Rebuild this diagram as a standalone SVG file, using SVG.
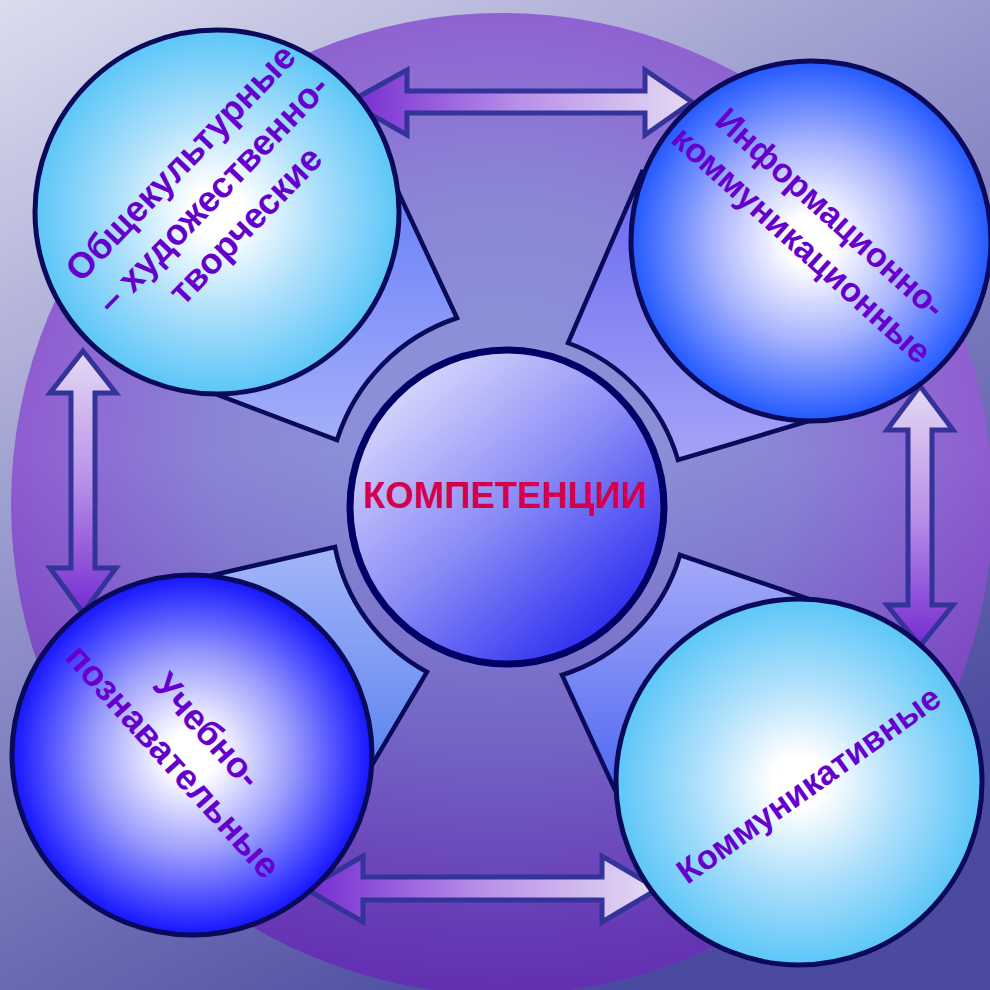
<svg xmlns="http://www.w3.org/2000/svg" width="990" height="990" viewBox="0 0 990 990">
<defs>
<linearGradient id="bg" x1="0" y1="0" x2="0.55" y2="1">
<stop offset="0" stop-color="#dcdcee"/>
<stop offset="0.5" stop-color="#8e8ec8"/>
<stop offset="1" stop-color="#4a4aa0"/>
</linearGradient>
<radialGradient id="big" cx="0.5" cy="0.47" r="0.52">
<stop offset="0" stop-color="#8a9ada"/>
<stop offset="0.55" stop-color="#8a86d6"/>
<stop offset="1" stop-color="#9058d0"/>
</radialGradient>
<linearGradient id="bigShade" x1="0" y1="0" x2="0" y2="1">
<stop offset="0.45" stop-color="#3a1098" stop-opacity="0"/>
<stop offset="1" stop-color="#3a1098" stop-opacity="0.55"/>
</linearGradient>
<radialGradient id="cyan" cx="0.5" cy="0.5" r="0.5">
<stop offset="0" stop-color="#ffffff"/>
<stop offset="0.14" stop-color="#ffffff"/>
<stop offset="0.55" stop-color="#aee0fb"/>
<stop offset="1" stop-color="#5cc6f8"/>
</radialGradient>
<radialGradient id="blue1" cx="0.5" cy="0.5" r="0.5">
<stop offset="0" stop-color="#ffffff"/>
<stop offset="0.14" stop-color="#ffffff"/>
<stop offset="0.55" stop-color="#a8b4fd"/>
<stop offset="1" stop-color="#2258ff"/>
</radialGradient>
<radialGradient id="blue2" cx="0.5" cy="0.5" r="0.5">
<stop offset="0" stop-color="#ffffff"/>
<stop offset="0.14" stop-color="#ffffff"/>
<stop offset="0.55" stop-color="#9a9cfc"/>
<stop offset="1" stop-color="#1414ff"/>
</radialGradient>
<linearGradient id="center" x1="0.15" y1="0.1" x2="0.85" y2="0.9">
<stop offset="0" stop-color="#d8d8fc"/>
<stop offset="0.5" stop-color="#8a8cf6"/>
<stop offset="1" stop-color="#2a2af0"/>
</linearGradient>
<linearGradient id="petalTL" x1="0" y1="0" x2="0" y2="1">
<stop offset="0" stop-color="#6a80f8"/>
<stop offset="1" stop-color="#a4aef8"/>
</linearGradient>
<linearGradient id="petalTR" x1="0" y1="0" x2="0" y2="1">
<stop offset="0" stop-color="#6868f0"/>
<stop offset="1" stop-color="#a4a4f8"/>
</linearGradient>
<linearGradient id="petalBL" x1="0" y1="0" x2="0" y2="1">
<stop offset="0" stop-color="#a4b6f8"/>
<stop offset="1" stop-color="#5c84f0"/>
</linearGradient>
<linearGradient id="petalBR" x1="0" y1="0" x2="0" y2="1">
<stop offset="0" stop-color="#a4aaf8"/>
<stop offset="1" stop-color="#5068f0"/>
</linearGradient>
<linearGradient id="arrH1" gradientUnits="userSpaceOnUse" x1="345" y1="0" x2="695" y2="0">
<stop offset="0" stop-color="#7428d0"/>
<stop offset="0.5" stop-color="#b890e8"/>
<stop offset="1" stop-color="#e6dcf4"/>
</linearGradient>
<linearGradient id="arrH2" gradientUnits="userSpaceOnUse" x1="302" y1="0" x2="662" y2="0">
<stop offset="0" stop-color="#7428d0"/>
<stop offset="0.5" stop-color="#b890e8"/>
<stop offset="1" stop-color="#e6dcf4"/>
</linearGradient>
<linearGradient id="arrV1" gradientUnits="userSpaceOnUse" x1="0" y1="347" x2="0" y2="617">
<stop offset="0" stop-color="#e6dcf4"/>
<stop offset="0.5" stop-color="#b890e8"/>
<stop offset="1" stop-color="#7428d0"/>
</linearGradient>
<linearGradient id="arrV2" gradientUnits="userSpaceOnUse" x1="0" y1="382" x2="0" y2="650">
<stop offset="0" stop-color="#e6dcf4"/>
<stop offset="0.5" stop-color="#b890e8"/>
<stop offset="1" stop-color="#7428d0"/>
</linearGradient>
</defs>
<style>
.node{stroke:#0a0a5a;stroke-width:5}
.petal{stroke:#0a0a5a;stroke-width:4.5;stroke-linejoin:miter}
.arrow{stroke:#333399;stroke-width:5;stroke-linejoin:miter}
.lbl{font-family:"Liberation Sans",Arial,sans-serif;font-weight:bold;fill:#6600cc;text-anchor:middle}
.ctr{font-family:"Liberation Sans",Arial,sans-serif;font-weight:bold;fill:#d4004c;text-anchor:middle;font-size:36.5px}
</style>
<rect x="0" y="0" width="990" height="990" fill="url(#bg)"/>
<circle cx="502" cy="504" r="491" fill="url(#big)"/>
<circle cx="502" cy="504" r="491" fill="url(#bigShade)"/>

<g id="petals">
<path class="petal" fill="url(#petalTL)" d="M217,212 L395,185 L457,318 A188,188 0 0 0 337,440 L213,393 Z"/>
<path class="petal" fill="url(#petalTR)" d="M811,241 L642,172 L568,343 A176,176 0 0 1 678,460 L812,420 Z"/>
<path class="petal" fill="url(#petalBL)" d="M192,755 L213,575 L335,547 A180,180 0 0 0 427,672 L372,765 Z"/>
<path class="petal" fill="url(#petalBR)" d="M799,782 L812,600 L680,555 A177,177 0 0 1 562,675 L615,790 Z"/>
</g>

<g id="connectors">
<polygon class="arrow" fill="url(#arrH1)" points="349,102 407,70 407,91 645,91 645,70 692,102 645,135 645,113 407,113 407,135"/>
<polygon class="arrow" fill="url(#arrH2)" points="306,889 363,856 363,877 602,877 602,856 658,889 602,922 602,900 363,900 363,922"/>
<polygon class="arrow" fill="url(#arrV1)" points="83,351 116,393 95,393 95,568 116,568 83,613 50,568 71,568 71,393 50,393"/>
<polygon class="arrow" fill="url(#arrV2)" points="920,386 953,430 932,430 932,605 953,605 920,646 887,605 908,605 908,430 887,430"/>
</g>

<g id="node-culture">
<circle class="node" cx="217" cy="212" r="182" fill="url(#cyan)"/>
<g transform="translate(213,194) rotate(-46)">
<text class="lbl" font-size="36" x="0" y="-33">Общекультурные</text>
<text class="lbl" font-size="36" x="0" y="12">– художественно-</text>
<text class="lbl" font-size="36" x="0" y="57">творческие</text>
</g>
</g>

<g id="node-info">
<circle class="node" cx="811" cy="241" r="180" fill="url(#blue1)"/>
<g transform="translate(816,229) rotate(42)">
<text class="lbl" font-size="34" x="0" y="-10">Информационно-</text>
<text class="lbl" font-size="34" x="0" y="33">коммуникационные</text>
</g>
</g>

<g id="node-study">
<circle class="node" cx="192" cy="755" r="180" fill="url(#blue2)"/>
<g transform="translate(190,746) rotate(48)">
<text class="lbl" font-size="36" x="0" y="-11">Учебно-</text>
<text class="lbl" font-size="36" x="0" y="35">познавательные</text>
</g>
</g>

<g id="node-comm">
<circle class="node" cx="799" cy="782" r="183" fill="url(#cyan)"/>
<g transform="translate(809,785) rotate(-35.4)">
<text class="lbl" font-size="34" x="0" y="11">Коммуникативные</text>
</g>
</g>

<g id="node-center">
<circle cx="507" cy="507" r="157" fill="url(#center)" stroke="#000066" stroke-width="7"/>
<text class="ctr" x="505" y="508">КОМПЕТЕНЦИИ</text>
</g>
</svg>
